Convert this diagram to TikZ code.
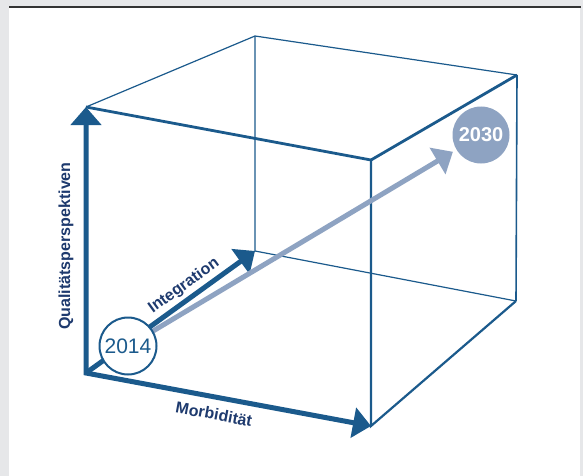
\documentclass[tikz,border=0pt]{standalone}
\usepackage{fontspec}
\setmainfont{Liberation Sans}
\usetikzlibrary{arrows.meta}
\definecolor{cubeblue}{HTML}{1B5A8C}
\definecolor{textblue}{HTML}{1E3A6E}
\definecolor{paleblue}{HTML}{8EA3C2}
\definecolor{framegray}{HTML}{E6E7E9}
\pgfdeclarelayer{back}
\pgfsetlayers{back,main}

\begin{document}
\begin{tikzpicture}[x=1pt,y=-1pt]
\tikzset{
 edge/.style={draw=cubeblue, line width=1.2pt},
 sideedge/.style={draw=cubeblue, line width=2.2pt},
 frontedge/.style={draw=cubeblue, line width=2.8pt},
 axis/.style={draw=cubeblue, line width=5pt, line join=miter},
 lbl/.style={text=textblue, font=\fontsize{16}{16}\selectfont\bfseries, inner sep=0pt},
 year/.style={circle, minimum size=57pt, inner sep=0pt, font=\fontsize{21}{21}\selectfont}
}
\tikzset{tip/.style={-{Triangle[width=30pt,length=18pt]}}}

\useasboundingbox (0,0) rectangle (583,476);

% Frame
\begin{pgfonlayer}{back}
\fill[framegray] (0,0) rectangle (583,476);
\fill[white] (9,8) rectangle (580,476);
\draw[black!80, line width=1.3pt] (9,7) -- (581,7);
\end{pgfonlayer}

% Cube corners
\coordinate (A) at (86,373);
\coordinate (B) at (371,426);
\coordinate (C) at (86,107);
\coordinate (D) at (371,160);
\coordinate (E) at (255,251);
\coordinate (F) at (516,301);
\coordinate (G) at (255,36);
\coordinate (H) at (517,75);

% Years
\node[year, draw=cubeblue, line width=2pt, fill=white, text=cubeblue] (c2014) at (128,346) {2014};
\node[year, fill=paleblue, text=white, font=\fontsize{20}{20}\selectfont\bfseries] (c2030) at (481,135) {2030};

\begin{pgfonlayer}{back}
% Cube edges
\draw[edge] (C) -- (G) -- (H);
\draw[edge] (G) -- (E) -- (F);
\draw[edge, line width=1.6pt] (H) -- (F);
\draw[sideedge] (D) -- (B) -- (F);
\draw[frontedge] (C) -- (D) -- (H);

% Axes
\draw[axis, {Triangle[width=30pt,length=18pt]}-{Triangle[width=30pt,length=18pt]}] (C) -- (A) -- (B);
\draw[axis, tip] (A) -- (E);

% Development
\draw[axis, tip, draw=paleblue, shorten >=4pt] (c2014.center) -- (c2030);
\end{pgfonlayer}

% Labels
\node[lbl, rotate=90] (lblQual) at (66,246) {Qualitätsperspektiven};
\node[lbl, rotate=-10.5] (lblMorb) at (214,414) {Morbidität};
\node[lbl, rotate=35.8] (lblInt) at (184,286) {Integration};

\end{tikzpicture}
\end{document}
